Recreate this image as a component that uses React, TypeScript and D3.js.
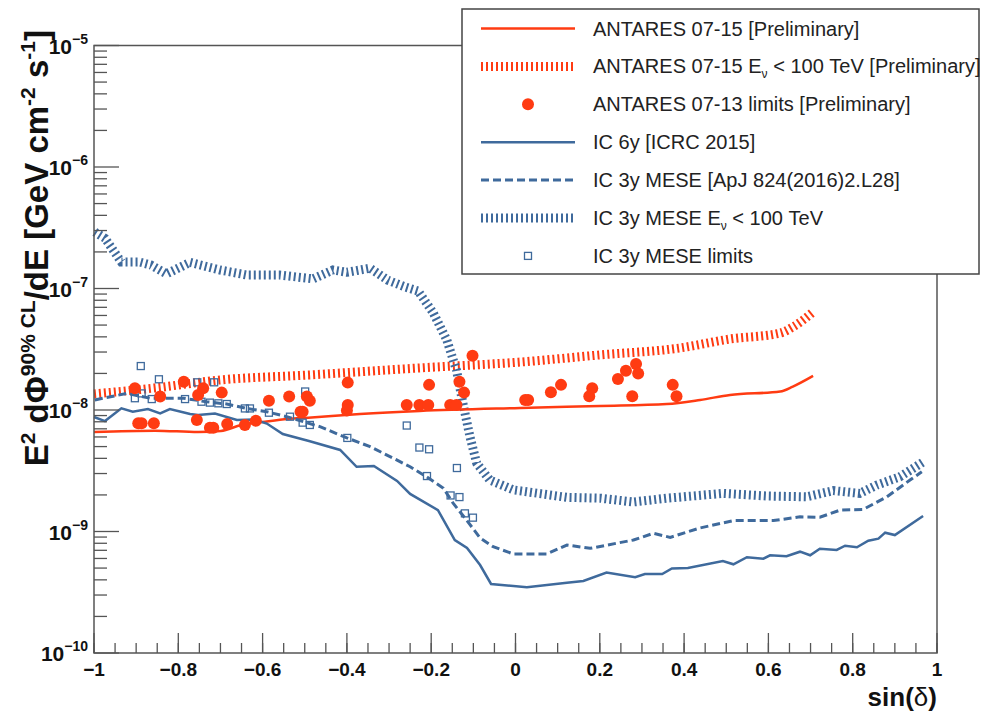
import * as d3 from 'd3';

// ANTARES 07-15 [Preliminary]  (sin(delta), E2 dPhi/dE)
const antares0715: [number, number][] = [
  [-1.0, 6.59e-9], [-0.855, 6.76e-9], [-0.753, 6.59e-9], [-0.699, 6.72e-9], [-0.651, 7.53e-9],
  [-0.594, 8.02e-9], [-0.54, 8.44e-9], [-0.492, 8.65e-9], [-0.369, 9.27e-9], [-0.227, 9.82e-9],
  [0.011, 1.04e-8], [0.2, 1.08e-8], [0.359, 1.12e-8], [0.438, 1.21e-8], [0.509, 1.33e-8],
  [0.628, 1.42e-8], [0.658, 1.56e-8], [0.706, 1.91e-8],
];

// ANTARES 07-15 Ev < 100 TeV
const antares0715Low: [number, number][] = [
  [-1.0, 1.355e-8], [-0.855, 1.52e-8], [-0.699, 1.77e-8], [-0.492, 1.94e-8], [-0.227, 2.22e-8],
  [0.011, 2.48e-8], [0.2, 2.84e-8], [0.39, 3.24e-8], [0.509, 3.84e-8], [0.628, 4.3e-8],
  [0.658, 4.82e-8], [0.706, 6.41e-8],
];

// ANTARES 07-13 limits
const antaresLimits: [number, number][] = [
  [-0.903, 1.51e-8], [-0.895, 7.78e-9], [-0.887, 7.78e-9], [-0.858, 7.78e-9], [-0.843, 1.29e-8],
  [-0.787, 1.71e-8], [-0.756, 8.28e-9], [-0.753, 1.33e-8], [-0.741, 1.51e-8], [-0.725, 7.15e-9],
  [-0.717, 7.15e-9], [-0.697, 1.39e-8], [-0.684, 7.67e-9], [-0.642, 7.53e-9], [-0.616, 8.17e-9],
  [-0.585, 1.19e-8], [-0.537, 1.29e-8], [-0.51, 9.68e-9], [-0.505, 9.68e-9], [-0.495, 1.29e-8],
  [-0.488, 1.19e-8], [-0.398, 1.68e-8], [-0.398, 1.1e-8], [-0.4, 9.9e-9], [-0.258, 1.1e-8],
  [-0.228, 1.1e-8], [-0.207, 1.1e-8], [-0.205, 1.61e-8], [-0.155, 1.1e-8], [-0.14, 1.1e-8],
  [-0.133, 1.71e-8], [-0.122, 1.39e-8], [-0.102, 2.8e-8], [0.023, 1.21e-8], [0.03, 1.21e-8],
  [0.084, 1.4e-8], [0.108, 1.61e-8], [0.175, 1.3e-8], [0.182, 1.51e-8], [0.243, 1.8e-8],
  [0.262, 2.1e-8], [0.286, 2.39e-8], [0.291, 2.0e-8], [0.277, 1.3e-8], [0.373, 1.61e-8],
  [0.382, 1.3e-8],
];

// IC 6y [ICRC 2015]
const ic6y: [number, number][] = [
  [-1.0, 8.75e-9], [-0.974, 8.11e-9], [-0.935, 1.033e-8], [-0.908, 9.68e-9], [-0.872, 1.019e-8],
  [-0.843, 9.39e-9], [-0.82, 1.019e-8], [-0.772, 9.27e-9], [-0.753, 9.1e-9], [-0.713, 9.36e-9],
  [-0.661, 8.28e-9], [-0.62, 8.35e-9], [-0.59, 7.74e-9], [-0.552, 6.34e-9], [-0.49, 5.56e-9],
  [-0.416, 4.69e-9], [-0.377, 3.41e-9], [-0.336, 3.46e-9], [-0.281, 2.61e-9], [-0.25, 2.04e-9],
  [-0.184, 1.5e-9], [-0.144, 8.51e-10], [-0.115, 7.31e-10], [-0.084, 5.3e-10], [-0.058, 3.7e-10],
  [0.027, 3.48e-10], [0.122, 3.79e-10], [0.161, 3.92e-10], [0.216, 4.6e-10], [0.284, 4.2e-10],
  [0.307, 4.47e-10], [0.348, 4.47e-10], [0.371, 4.96e-10], [0.409, 5.01e-10], [0.492, 5.72e-10],
  [0.517, 5.37e-10], [0.549, 6.14e-10], [0.588, 5.97e-10], [0.604, 6.37e-10], [0.643, 6.25e-10],
  [0.675, 6.82e-10], [0.699, 6.37e-10], [0.722, 7.21e-10], [0.762, 7.05e-10], [0.782, 7.64e-10],
  [0.81, 7.41e-10], [0.837, 8.4e-10], [0.861, 8.73e-10], [0.877, 9.78e-10], [0.9, 9.35e-10],
  [0.967, 1.34e-9],
];

// IC 3y MESE [ApJ 824(2016)2.L28]
const ic3yMese: [number, number][] = [
  [-0.998, 1.21e-8], [-0.922, 1.37e-8], [-0.867, 1.25e-8], [-0.788, 1.25e-8], [-0.733, 1.17e-8],
  [-0.685, 1.12e-8], [-0.638, 1.03e-8], [-0.59, 9.68e-9], [-0.543, 8.81e-9], [-0.495, 7.87e-9],
  [-0.464, 7.29e-9], [-0.4, 5.9e-9], [-0.345, 4.99e-9], [-0.282, 3.88e-9], [-0.25, 3.41e-9],
  [-0.211, 2.82e-9], [-0.171, 2.27e-9], [-0.148, 1.71e-9], [-0.116, 1.24e-9], [-0.084, 8.85e-10],
  [-0.053, 7.5e-10], [-0.005, 6.53e-10], [0.074, 6.53e-10], [0.122, 7.74e-10], [0.177, 7.27e-10],
  [0.28, 8.51e-10], [0.327, 9.66e-10], [0.367, 8.95e-10], [0.438, 1.07e-9], [0.517, 1.23e-9],
  [0.612, 1.23e-9], [0.675, 1.32e-9], [0.722, 1.31e-9], [0.77, 1.5e-9], [0.825, 1.52e-9],
  [0.881, 1.93e-9], [0.936, 2.65e-9], [0.964, 3.1e-9],
];

// IC 3y MESE Ev < 100 TeV
const ic3yMeseLow: [number, number][] = [
  [-0.998, 2.92e-7], [-0.974, 2.59e-7], [-0.935, 1.65e-7], [-0.891, 1.65e-7], [-0.865, 1.56e-7],
  [-0.828, 1.32e-7], [-0.772, 1.64e-7], [-0.701, 1.42e-7], [-0.637, 1.29e-7], [-0.559, 1.29e-7],
  [-0.48, 1.2e-7], [-0.433, 1.42e-7], [-0.4, 1.36e-7], [-0.345, 1.47e-7], [-0.303, 1.17e-7],
  [-0.262, 1.03e-7], [-0.231, 9.53e-8], [-0.195, 6.29e-8], [-0.163, 3.77e-8], [-0.14, 2.13e-8],
  [-0.124, 1.1e-8], [-0.108, 6.03e-9], [-0.092, 3.64e-9], [-0.061, 2.65e-9], [-0.005, 2.2e-9],
  [0.122, 1.91e-9], [0.201, 1.88e-9], [0.28, 1.75e-9], [0.359, 1.88e-9], [0.493, 2.06e-9],
  [0.596, 1.96e-9], [0.691, 1.93e-9], [0.754, 2.17e-9], [0.817, 2.06e-9], [0.857, 2.41e-9],
  [0.912, 2.82e-9], [0.968, 3.75e-9],
];

// IC 3y MESE limits
const ic3yLimits: [number, number][] = [
  [-0.889, 2.3e-8], [-0.846, 1.79e-8], [-0.903, 1.25e-8], [-0.887, 1.37e-8], [-0.863, 1.23e-8],
  [-0.784, 1.23e-8], [-0.755, 1.69e-8], [-0.715, 1.69e-8], [-0.745, 1.17e-8], [-0.725, 1.15e-8],
  [-0.705, 1.135e-8], [-0.685, 1.12e-8], [-0.642, 1.03e-8], [-0.63, 1.03e-8], [-0.585, 9.5e-9],
  [-0.535, 8.81e-9], [-0.499, 1.42e-8], [-0.505, 7.87e-9], [-0.488, 7.53e-9], [-0.399, 5.89e-9],
  [-0.258, 7.45e-9], [-0.228, 4.91e-9], [-0.205, 4.75e-9], [-0.139, 3.33e-9], [-0.21, 2.86e-9],
  [-0.154, 1.98e-9], [-0.133, 1.92e-9], [-0.12, 1.41e-9], [-0.101, 1.3e-9],
];

const xTicks = [-1, -0.8, -0.6, -0.4, -0.2, 0, 0.2, 0.4, 0.6, 0.8, 1];
const xTickLabels = ['\u22121', '\u22120.8', '\u22120.6', '\u22120.4', '\u22120.2', '0', '0.2', '0.4', '0.6', '0.8', '1'];
const yExponents = [-10, -9, -8, -7, -6, -5];

const RED = '#ff3b12';
const BLUE = '#3f6a9c';
const FONT = '"Liberation Sans", Arial, Helvetica, sans-serif';
const WIDE_DASH = '2,3';

export default function App() {
  const width = 982;
  const height = 714;
  const left = 94, right = 937, top = 45.5, bottom = 653;

  const x = d3.scaleLinear().domain([-1, 1]).range([left, right]);
  const y = d3.scaleLog().domain([1e-10, 1e-5]).range([bottom, top]);

  const line = d3.line<[number, number]>()
    .x(d => x(d[0]))
    .y(d => y(d[1]));
  const smooth = d3.line<[number, number]>()
    .x(d => x(d[0]))
    .y(d => y(d[1]))
    .curve(d3.curveMonotoneX);

  const xMinor = d3.range(-1, 1.0001, 0.05);
  const yMinor: number[] = [];
  yExponents.slice(0, -1).forEach(e => {
    for (let k = 2; k <= 9; k++) yMinor.push(k * Math.pow(10, e));
  });

  // legend
  const lgX = 462, lgY = 9, lgW = 517, lgH = 265;
  const rowY = (i: number) => 28.5 + i * 37.9;
  const sx0 = 481, sx1 = 575, tx = 593;

  return (
    <svg width={width} height={height} style={{ position: 'absolute', left: 0, top: 0, background: '#fff' }}
      fontFamily={FONT}>
      <rect x={0} y={0} width={width} height={height} fill="#fff" />

      {/* data */}
      <path d={smooth(antares0715Low) ?? ''} fill="none" stroke={RED} strokeWidth={9} strokeDasharray={WIDE_DASH} />
      <path d={line(ic3yMeseLow) ?? ''} fill="none" stroke={BLUE} strokeWidth={9} strokeDasharray={WIDE_DASH} />
      <path d={smooth(antares0715) ?? ''} fill="none" stroke={RED} strokeWidth={2.5} />
      <path d={line(ic6y) ?? ''} fill="none" stroke={BLUE} strokeWidth={2.5} />
      <path d={line(ic3yMese) ?? ''} fill="none" stroke={BLUE} strokeWidth={3} strokeDasharray="8,4" />
      {ic3yLimits.map((d, i) => (
        <rect key={'s' + i} x={x(d[0]) - 3.5} y={y(d[1]) - 3.5} width={7} height={7}
          fill="none" stroke={BLUE} strokeWidth={1.3} />
      ))}
      {antaresLimits.map((d, i) => (
        <circle key={'c' + i} cx={x(d[0])} cy={y(d[1])} r={6} fill={RED} />
      ))}

      {/* frame */}
      <rect x={left} y={top} width={right - left} height={bottom - top} fill="none" stroke="#555" strokeWidth={1.5} />

      {/* x axis ticks */}
      {xMinor.map((v, i) => (
        <line key={'xm' + i} x1={x(v)} x2={x(v)} y1={bottom} y2={bottom - 10} stroke="#555" strokeWidth={1.3} />
      ))}
      {xTicks.map((v, i) => (
        <g key={'xt' + i}>
          <line x1={x(v)} x2={x(v)} y1={bottom} y2={bottom - 20} stroke="#555" strokeWidth={1.3} />
          <text x={x(v)} y={bottom + 23} textAnchor="middle" fontSize={19} fontWeight="bold" fill="#111">
            {xTickLabels[i]}
          </text>
        </g>
      ))}
      <text x={right} y={706} textAnchor="end" fontSize={26} fontWeight="bold" fill="#111">
        sin(<tspan fontWeight="normal">δ</tspan>)
      </text>

      {/* y axis ticks */}
      {yMinor.map((v, i) => (
        <line key={'ym' + i} x1={left} x2={left + 13} y1={y(v)} y2={y(v)} stroke="#555" strokeWidth={1.3} />
      ))}
      {yExponents.map(e => (
        <g key={'yt' + e}>
          <line x1={left} x2={left + 25} y1={y(Math.pow(10, e))} y2={y(Math.pow(10, e))} stroke="#555" strokeWidth={1.3} />
          <text x={88} y={y(Math.pow(10, e)) + 8} textAnchor="end" fontWeight="bold" fill="#111" fontSize={21}>
            10<tspan fontSize={14} dy={-10}>{'\u2212' + Math.abs(e)}</tspan>
          </text>
        </g>
      ))}
      <text transform="translate(48,30) rotate(-90)" textAnchor="end" fontSize={33} fontWeight="bold" fill="#111">
        E<tspan fontSize={21} dy={-13}>2</tspan><tspan dy={13}> dΦ</tspan>
        <tspan fontSize={21} dy={-13}>90% CL</tspan><tspan dy={13}>/dE [GeV cm</tspan>
        <tspan fontSize={21} dy={-13}>-2</tspan><tspan dy={13}> s</tspan>
        <tspan fontSize={21} dy={-13}>-1</tspan><tspan dy={13}>]</tspan>
      </text>

      {/* legend */}
      <rect x={lgX} y={lgY} width={lgW} height={lgH} fill="#fff" stroke="#444" strokeWidth={1.5} />
      <line x1={sx0} x2={sx1} y1={rowY(0)} y2={rowY(0)} stroke={RED} strokeWidth={2.5} />
      <line x1={sx0} x2={sx1} y1={rowY(1)} y2={rowY(1)} stroke={RED} strokeWidth={9} strokeDasharray={WIDE_DASH} />
      <circle cx={528} cy={rowY(2)} r={6} fill={RED} />
      <line x1={sx0} x2={sx1} y1={rowY(3)} y2={rowY(3)} stroke={BLUE} strokeWidth={2.5} />
      <line x1={sx0} x2={sx1} y1={rowY(4)} y2={rowY(4)} stroke={BLUE} strokeWidth={3} strokeDasharray="8,4" />
      <line x1={sx0} x2={sx1} y1={rowY(5)} y2={rowY(5)} stroke={BLUE} strokeWidth={9} strokeDasharray={WIDE_DASH} />
      <rect x={524.5} y={rowY(6) - 3.5} width={7} height={7} fill="none" stroke={BLUE} strokeWidth={1.3} />
      <g fontSize={20} fill="#222">
        <text x={tx} y={rowY(0) + 7}>ANTARES 07-15 [Preliminary]</text>
        <text x={tx} y={rowY(1) + 7}>ANTARES 07-15 E<tspan fontSize={12} dy={5}>ν</tspan><tspan dy={-5}> &lt; 100 TeV [Preliminary]</tspan></text>
        <text x={tx} y={rowY(2) + 7}>ANTARES 07-13 limits [Preliminary]</text>
        <text x={tx} y={rowY(3) + 7}>IC 6y [ICRC 2015]</text>
        <text x={tx} y={rowY(4) + 7}>IC 3y MESE [ApJ 824(2016)2.L28]</text>
        <text x={tx} y={rowY(5) + 7}>IC 3y MESE E<tspan fontSize={12} dy={5}>ν</tspan><tspan dy={-5}> &lt; 100 TeV</tspan></text>
        <text x={tx} y={rowY(6) + 7}>IC 3y MESE limits</text>
      </g>
    </svg>
  );
}
